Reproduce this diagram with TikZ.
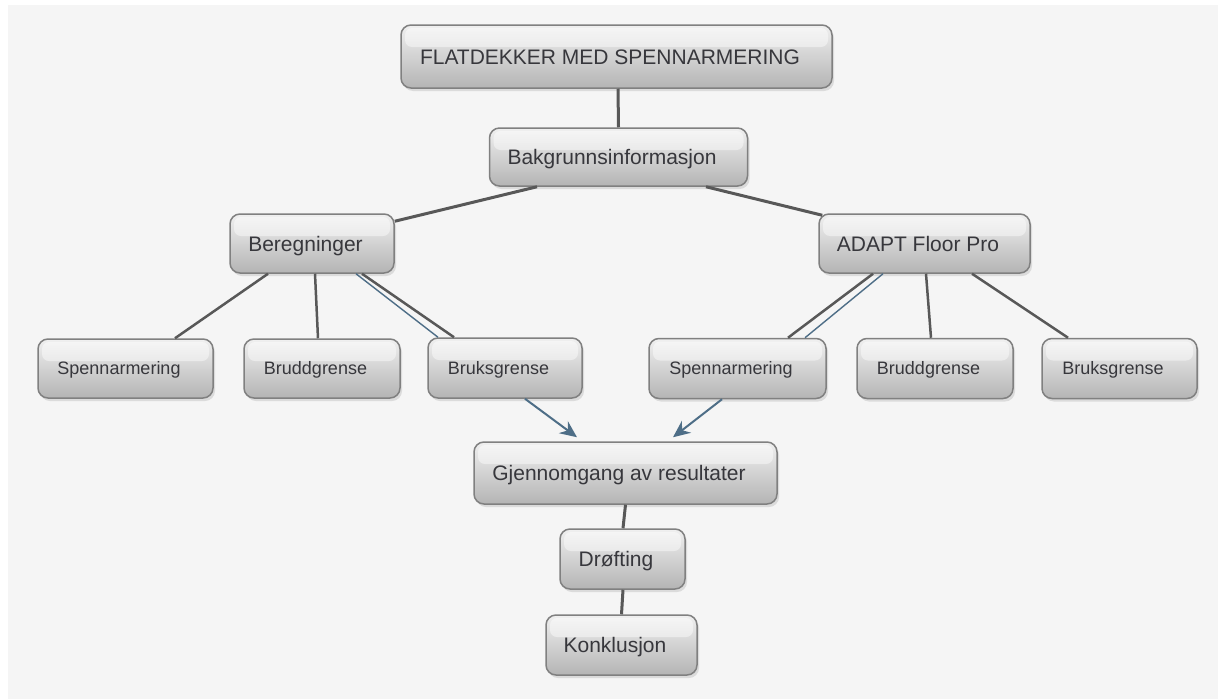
\documentclass[tikz,border=0pt]{standalone}
\usepackage{fontspec}
\setmainfont{Liberation Sans}
\usetikzlibrary{arrows.meta,shadows}
\definecolor{bg}{RGB}{245,245,245}
\definecolor{boxtop}{RGB}{240,240,240}
\definecolor{boxbot}{RGB}{180,180,180}
\definecolor{boxborder}{RGB}{128,128,128}
\definecolor{txt}{RGB}{55,55,60}
\definecolor{conn}{RGB}{88,88,88}
\definecolor{blueconn}{RGB}{78,110,135}
\tikzset{
  box/.style={rounded corners=10pt, draw=boxborder, line width=1.5pt,
    top color=boxtop, bottom color=boxbot, inner sep=0pt,
    text=txt, text depth=0pt,
    execute at begin node={\hspace*{-13pt}},
    drop shadow={opacity=0.22, shadow xshift=2pt, shadow yshift=-3pt},
    path picture={\fill[white,opacity=0.45,rounded corners=7pt]
      ([xshift=4pt,yshift=-3pt]path picture bounding box.north west) rectangle
      ([xshift=-4pt,yshift=-22pt]path picture bounding box.north east);}},
  big/.style={box, font=\fontsize{21}{24}\selectfont, text height=15pt},
  small/.style={box, font=\fontsize{18}{21}\selectfont, text height=12.9pt},
  link/.style={draw=conn, line width=3pt},
  thinlink/.style={draw=conn, line width=2.5pt},
  bluelink/.style={draw=blueconn, line width=1.4pt},
  arrowlink/.style={draw=blueconn, line width=2pt, -{Stealth[length=17pt,width=15pt]}}
}
\begin{document}
\begin{tikzpicture}[x=1pt,y=-1pt]
\useasboundingbox (0,0) rectangle (1218,699);
\fill[bg] (8,5) rectangle (1218,699);

\node[big, minimum width=431pt, minimum height=63pt] (flat) at (616.5,56.5) {FLATDEKKER MED SPENNARMERING};
\node[big, minimum width=258pt, minimum height=58pt] (bak) at (618.5,157) {Bakgrunnsinformasjon};
\node[big, minimum width=164pt, minimum height=59pt] (ber) at (312,243.5) {Beregninger};
\node[big, minimum width=211pt, minimum height=59pt] (adapt) at (924.5,243.5) {ADAPT Floor Pro};
\node[small, minimum width=175pt, minimum height=59pt] (spL) at (125.5,368.5) {Spennarmering};
\node[small, minimum width=156pt, minimum height=59pt] (brL) at (322,368.5) {Bruddgrense};
\node[small, minimum width=154pt, minimum height=60pt] (bkL) at (505,368) {Bruksgrense};
\node[small, minimum width=177pt, minimum height=60pt] (spR) at (737.5,368.5) {Spennarmering};
\node[small, minimum width=156pt, minimum height=60pt] (brR) at (935,368.5) {Bruddgrense};
\node[small, minimum width=155pt, minimum height=60pt] (bkR) at (1119.5,368.5) {Bruksgrense};
\node[big, minimum width=303pt, minimum height=62pt] (gj) at (625.5,473) {Gjennomgang av resultater};
\node[big, minimum width=125pt, minimum height=60pt] (dr) at (622.5,559) {Drøfting};
\node[big, minimum width=151pt, minimum height=60pt] (ko) at (621.5,645) {Konklusjon};

\draw[link] ([xshift=1.5pt]flat.south) -- ([xshift=0pt]bak.north);
\draw[link] ([xshift=-81.5pt]bak.south) -- ([yshift=-8pt]ber.north east);
\draw[link] ([xshift=87.5pt]bak.south) -- ([xshift=4pt,yshift=-2pt]adapt.north west);

\draw[thinlink] ([xshift=-44pt]ber.south) -- ([xshift=49.5pt]spL.north);
\draw[thinlink] ([xshift=3pt]ber.south) -- ([xshift=-4pt]brL.north);
\draw[bluelink] ([xshift=44pt]ber.south) -- ([xshift=-67pt]bkL.north);
\draw[thinlink] ([xshift=50pt]ber.south) -- ([xshift=-51pt]bkL.north);

\draw[bluelink] ([xshift=-41.5pt]adapt.south) -- ([xshift=67.5pt]spR.north);
\draw[thinlink] ([xshift=-51.5pt]adapt.south) -- ([xshift=50.5pt]spR.north);
\draw[thinlink] ([xshift=1.5pt]adapt.south) -- ([xshift=-4pt]brR.north);
\draw[thinlink] ([xshift=47.5pt]adapt.south) -- ([xshift=-51.5pt]bkR.north);

\draw[arrowlink] ([xshift=20pt]bkL.south) -- ([xshift=-48.5pt,yshift=4pt]gj.north);
\draw[arrowlink] ([xshift=-15.5pt]spR.south) -- ([xshift=47.5pt,yshift=4pt]gj.north);

\draw[link] (gj.south) -- ([xshift=0.5pt]dr.north);
\draw[link] ([xshift=0.5pt]dr.south) -- (ko.north);
\end{tikzpicture}
\end{document}
